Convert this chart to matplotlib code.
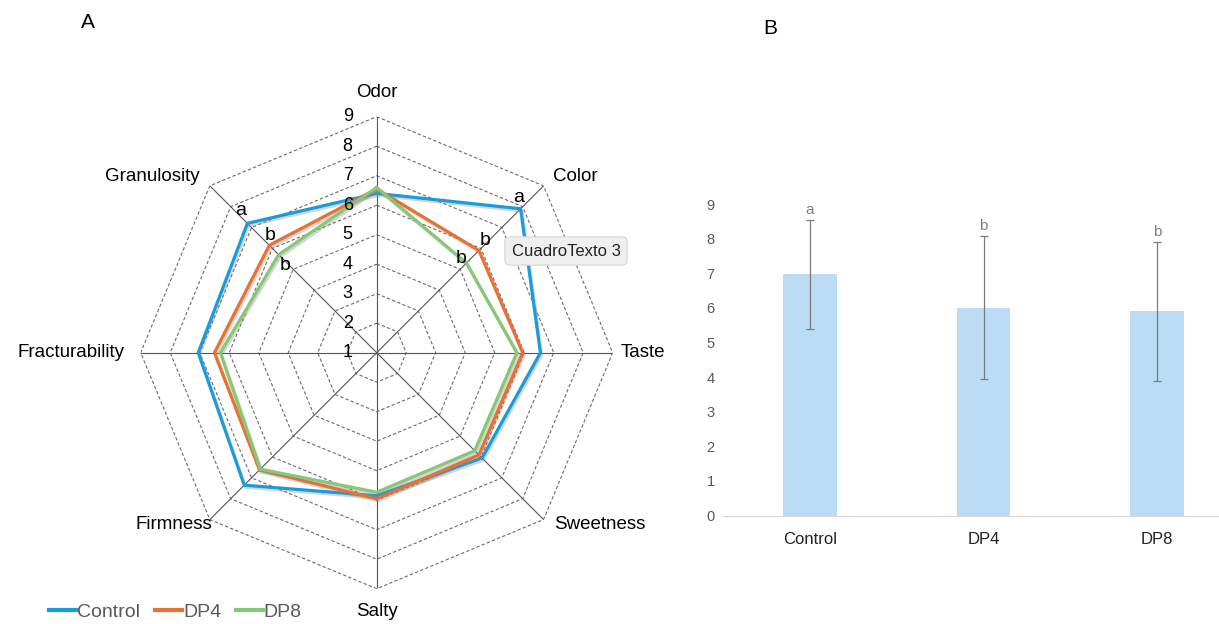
import numpy as np
import matplotlib
matplotlib.use('Agg')
import matplotlib.pyplot as plt
import matplotlib.patheffects as pe
from matplotlib.lines import Line2D

plt.rcParams['font.family'] = ['Liberation Sans', 'DejaVu Sans']

# sensory radar data (A)
attributes = ['Odor', 'Color', 'Taste', 'Sweetness', 'Salty', 'Firmness', 'Fracturability', 'Granulosity']
control = [6.4, 7.9, 6.55, 6.05, 5.85, 7.35, 7.05, 7.2]
dp4 = [6.55, 5.9, 5.95, 5.9, 5.95, 6.62, 6.5, 6.15]
dp8 = [6.6, 5.3, 5.75, 5.7, 5.73, 6.58, 6.3, 5.7]
ring_values = [1, 2, 3, 4, 5, 6, 7, 8, 9]
series_names = ['Control', 'DP4', 'DP8']
series_colors = ['#1A9CDB', '#E97132', '#86C876']
sig_granulosity = ['a', 'b', 'b']
sig_color = ['a', 'b', 'b']

# overall acceptability bars (B)
samples = ['Control', 'DP4', 'DP8']
means = [6.97, 6.0, 5.9]
errors = [1.57, 2.07, 2.0]
bar_letters = ['a', 'b', 'b']
bar_ticks = [0, 1, 2, 3, 4, 5, 6, 7, 8, 9]

W, H = 1219, 624
fig = plt.figure(figsize=(W / 100, H / 100), dpi=100)

# ---- radar ----
cx, cy, R = 376.7, 352.7, 236
ax = fig.add_axes([(cx - R) / W, (H - cy - R) / H, 2 * R / W, 2 * R / H], projection='polar')
ax.set_theta_zero_location('N')
ax.set_theta_direction(-1)
ax.set_ylim(1, 9)
ax.set_xticks([])
ax.set_yticks([])
ax.grid(False)
ax.spines['polar'].set_visible(False)
ax.patch.set_visible(False)

n = len(attributes)
theta = np.arange(n) * 2 * np.pi / n
theta_closed = np.append(theta, theta[0])

for v in ring_values[1:]:
    ax.plot(theta_closed, [v] * (n + 1), color='#6b6b6b', lw=0.8, ls=(0, (3, 2)), zorder=1)
for t in theta:
    ax.plot([t, t], [1, 9], color='#555555', lw=0.8, zorder=1)

shadow = [pe.SimpleLineShadow(offset=(1, -1.5), shadow_color='#888888', alpha=0.35), pe.Normal()]
for vals, name, col in zip([control, dp4, dp8], series_names, series_colors):
    ax.plot(theta_closed, vals + vals[:1], color=col, lw=2.3, zorder=3,
            solid_joinstyle='miter', path_effects=shadow)

for v in ring_values:
    ax.annotate(str(v), xy=(0, v), xytext=(-29, 0), textcoords='offset pixels',
                ha='center', va='center', fontsize=13, color='black', zorder=4)

label_offsets = [(0, 24), (32, 9), (30, 0), (56, -5), (0, -23), (-36, -5), (-70, 0), (-58, 9)]
for t, name, off in zip(theta, attributes, label_offsets):
    ax.annotate(name, xy=(t, 9), xytext=off, textcoords='offset pixels',
                ha='center', va='center', fontsize=13.5, color='black', annotation_clip=False)

gran_offsets = [(-7, 13), (1, 10), (6, -11)]
color_offsets = [(-2, 11), (6, 10), (-5, 5)]
for vals, lt, off in zip([control, dp4, dp8], sig_granulosity, gran_offsets):
    ax.annotate(lt, xy=(theta[7], vals[7]), xytext=off, textcoords='offset pixels',
                ha='center', va='center', fontsize=14, zorder=5)
for vals, lt, off in zip([control, dp4, dp8], sig_color, color_offsets):
    ax.annotate(lt, xy=(theta[1], vals[1]), xytext=off, textcoords='offset pixels',
                ha='center', va='center', fontsize=14, zorder=5)

handles = [Line2D([], [], color=c, lw=3) for c in series_colors]
fig.legend(handles, series_names, loc='center left', bbox_to_anchor=(49 / W, 1 - 612 / H),
           ncol=3, frameon=False, handlelength=1.4, handletextpad=0.05, columnspacing=0.75,
           fontsize=14, labelcolor='#595959', borderaxespad=0, borderpad=0)

# tooltip box left over in the source figure
fig.text(566 / W, 1 - 251 / H, 'CuadroTexto 3', ha='center', va='center', fontsize=12,
         color='#222222', zorder=10,
         bbox=dict(boxstyle='round,pad=0.4,rounding_size=0.3', fc='#EFEFEF', ec='#D6D6D6', lw=0.8))

# ---- bars ----
bx0, bx1, by0, by9 = 723, 1244, 515.5, 204
ax2 = fig.add_axes([bx0 / W, (H - by0) / H, (bx1 - bx0) / W, (by0 - by9) / H])
x = np.arange(len(samples))
ax2.bar(x, means, width=0.31, color='#BBDCF4', zorder=2)
ax2.errorbar(x, means, yerr=errors, fmt='none', ecolor='#7a7a7a', elinewidth=0.9,
             capsize=3, capthick=0.9, zorder=3)
for xi, m, e, lt in zip(x, means, errors, bar_letters):
    ax2.annotate(lt, xy=(xi, m + e), xytext=(0, 10), textcoords='offset pixels',
                 ha='center', va='center', fontsize=11, color='#808080')
ax2.set_xlim(-0.5, 2.5)
ax2.set_ylim(0, 9)
ax2.set_yticks(bar_ticks)
ax2.set_xticks(x)
ax2.set_xticklabels(samples)
for s in ['top', 'right', 'left']:
    ax2.spines[s].set_visible(False)
ax2.spines['bottom'].set_color('#D9D9D9')
ax2.tick_params(axis='y', length=0, labelsize=10.5, labelcolor='#595959', pad=6)
ax2.tick_params(axis='x', length=0, labelsize=12, labelcolor='#222222', pad=12)
ax2.patch.set_visible(False)

fig.text(88 / W, 1 - 22 / H, 'A', ha='center', va='center', fontsize=15)
fig.text(770 / W, 1 - 28 / H, 'B', ha='center', va='center', fontsize=15)

fig.savefig('out.png', dpi=100)
